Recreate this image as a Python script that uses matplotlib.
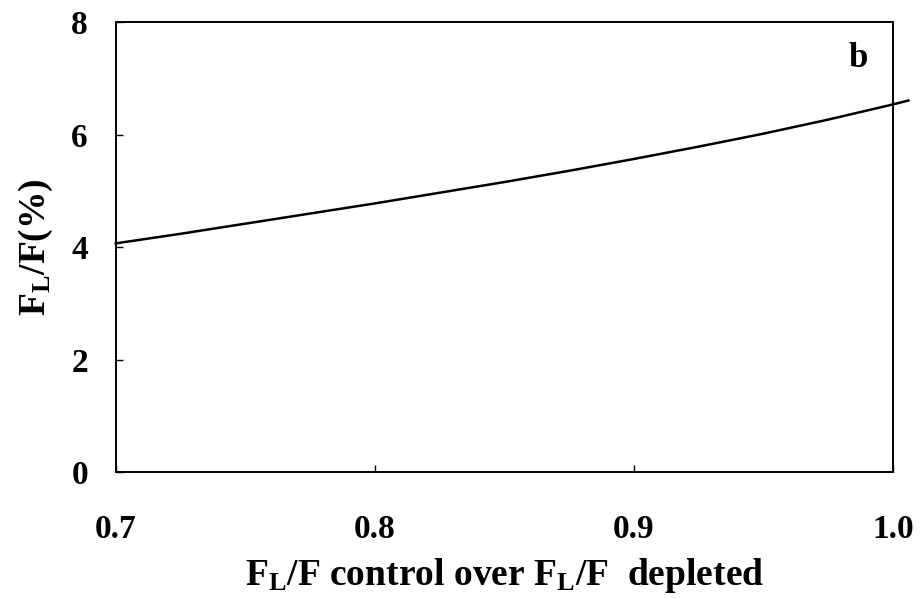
import matplotlib
matplotlib.use("Agg")
import matplotlib.pyplot as plt

# values
ratio = [0.70, 0.725, 0.75, 0.775, 0.80, 0.825, 0.85, 0.875, 0.90, 0.925, 0.95, 0.975, 1.00, 1.006]
fl_pct = [4.07, 4.24, 4.42, 4.60, 4.78, 4.97, 5.16, 5.36, 5.57, 5.79, 6.02, 6.27, 6.54, 6.61]

x_ticks = [0.7, 0.8, 0.9, 1.0]
x_labels = ["0.7", "0.8", "0.9", "1.0"]
y_ticks = [0, 2, 4, 6, 8]

plt.rcParams['font.family'] = ['Liberation Serif', 'DejaVu Serif']
plt.rcParams['font.weight'] = 'bold'
plt.rcParams['mathtext.fontset'] = 'custom'
plt.rcParams['mathtext.rm'] = 'Liberation Serif:bold'
plt.rcParams['mathtext.bf'] = 'Liberation Serif:bold'
plt.rcParams['mathtext.it'] = 'Liberation Serif:bold'

fig = plt.figure(figsize=(9.23, 5.98), dpi=100)
ax = fig.add_axes([0.1254, 0.2102, 0.842, 0.7525])

ax.plot(ratio, fl_pct, color='black', linewidth=1.8, clip_on=False)

ax.set_xlim(0.7, 1.0)
ax.set_ylim(0, 8)
ax.set_xticks(x_ticks)
ax.set_xticklabels(x_labels)
ax.set_yticks(y_ticks)

ax.tick_params(axis='both', direction='in', length=5, width=1, labelsize=24)
ax.tick_params(axis='x', pad=30)
ax.tick_params(axis='y', pad=20)
for lab in ax.get_xticklabels() + ax.get_yticklabels():
    lab.set_fontweight('bold')

for s in ax.spines.values():
    s.set_linewidth(1.4)

ax.set_xlabel(r'$\mathbf{F}_\mathbf{L}$/F control over $\mathbf{F}_\mathbf{L}$/F  depleted',
              fontsize=27, fontweight='bold', labelpad=8)
ax.set_ylabel(r'$\mathbf{F}_\mathbf{L}$/F(%)', fontsize=27, fontweight='bold', labelpad=12)

ax.text(0.955, 0.92, 'b', transform=ax.transAxes, fontsize=25, fontweight='bold',
        ha='center', va='center')

plt.savefig('out.png', dpi=100)
